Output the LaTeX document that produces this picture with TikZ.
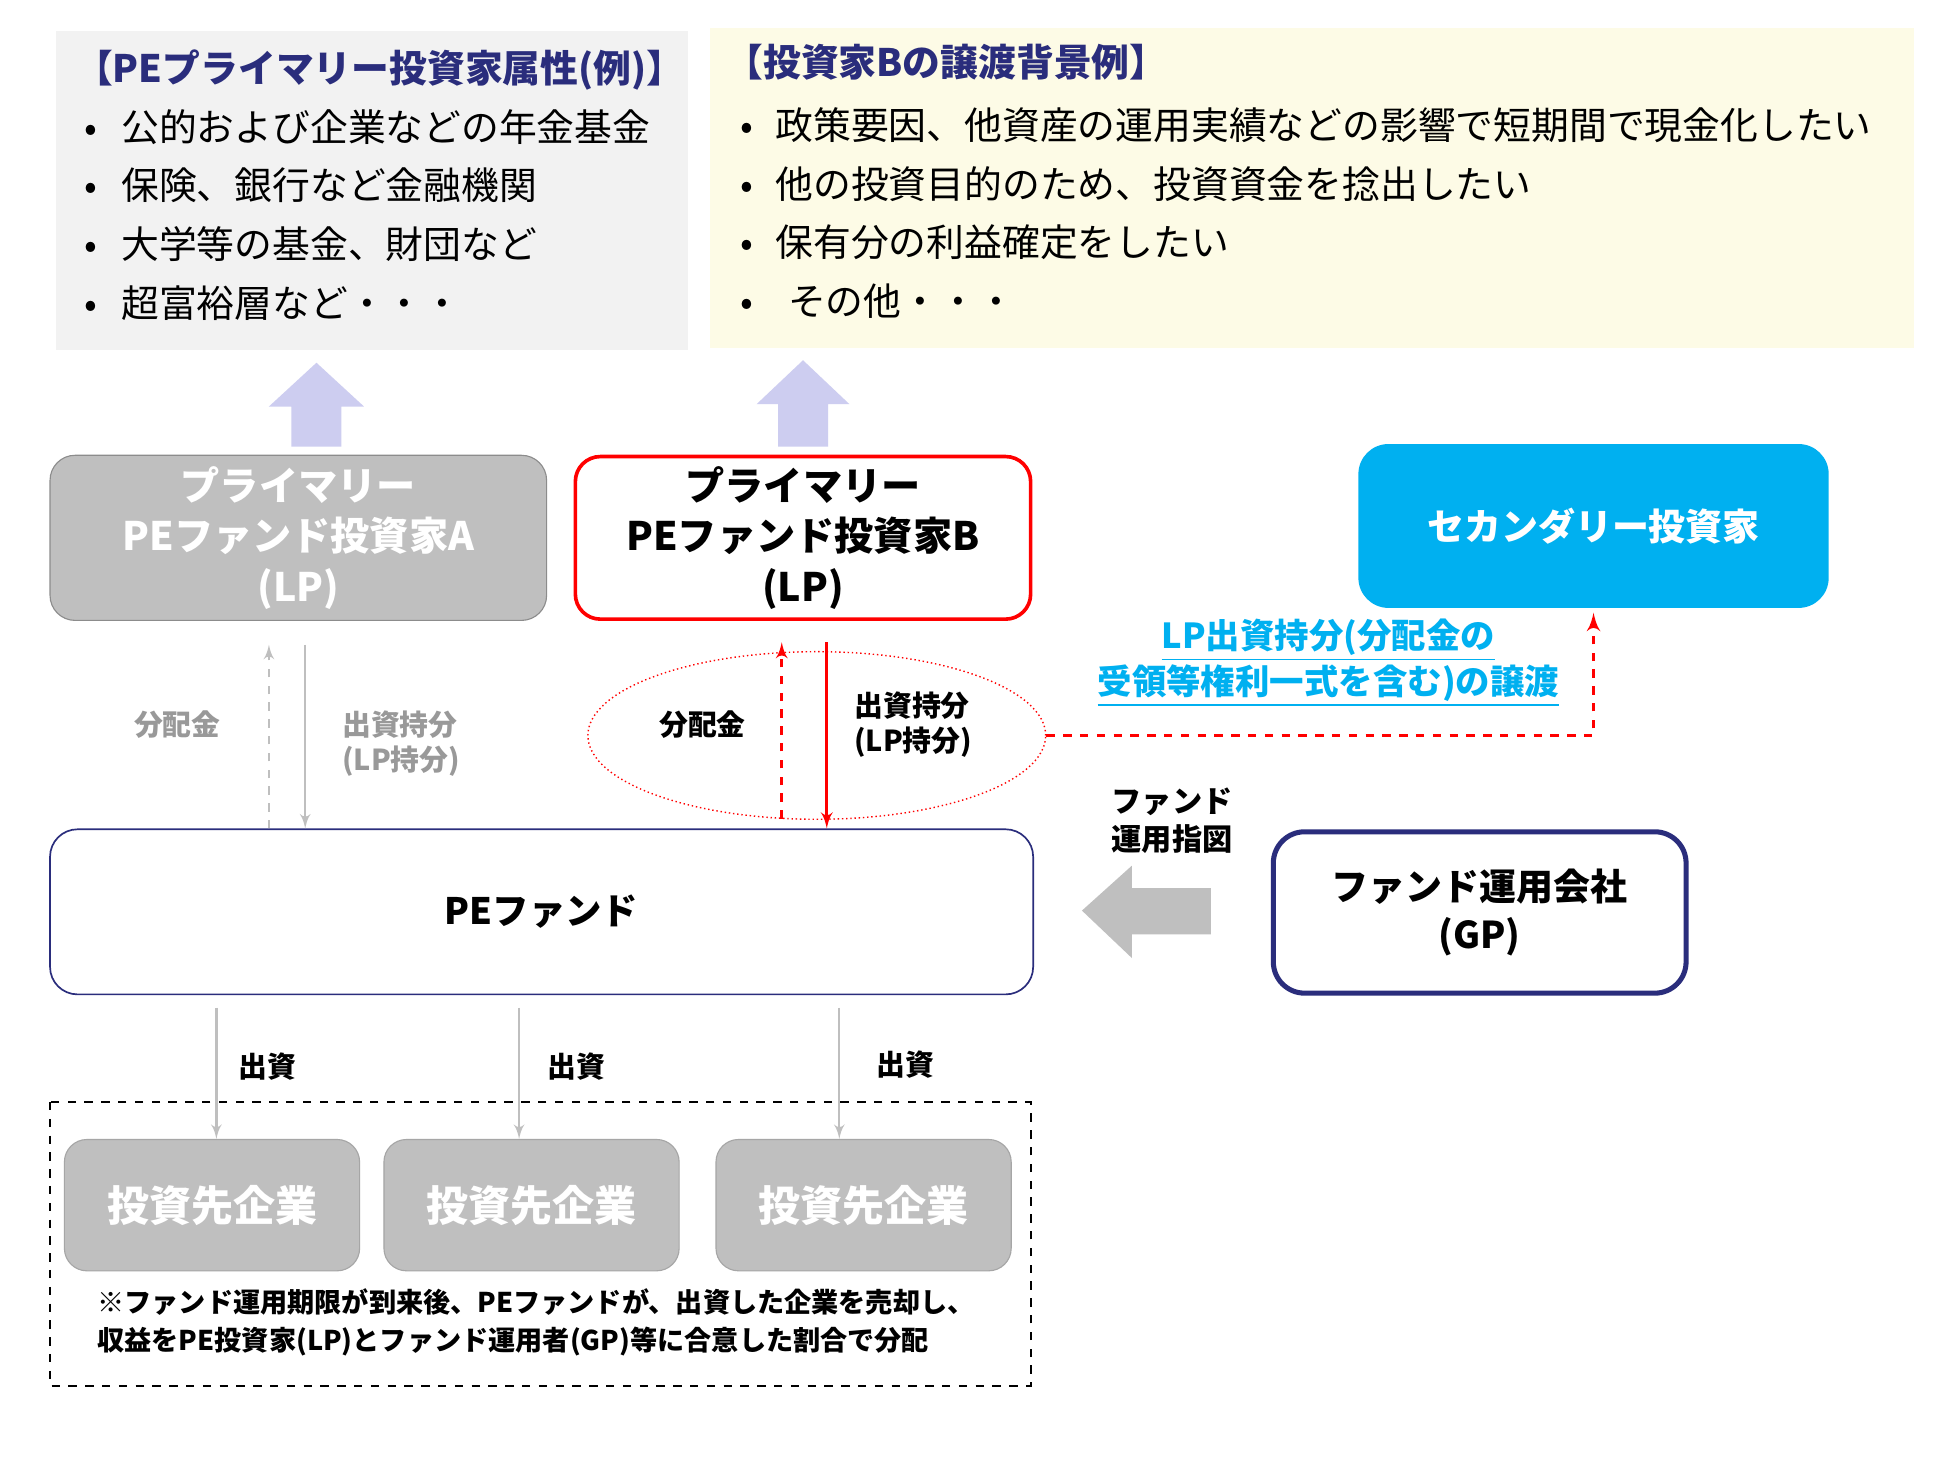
\documentclass[tikz,border=0pt]{standalone}
\usepackage{fontspec}
\setmainfont{Noto Sans CJK JP}
\usepackage{tikz}
\usetikzlibrary{shapes.geometric,arrows}
\newlength\upx
\setlength\upx{0.0157cm}
\definecolor{navy}{HTML}{2A2D7C}
\definecolor{panelgray}{HTML}{F2F2F2}
\definecolor{panelcream}{HTML}{FDFBE6}
\definecolor{lavender}{HTML}{CDCDF0}
\definecolor{boxgray}{HTML}{BFBFBF}
\definecolor{boxedge}{HTML}{8C8C8C}
\definecolor{compedge}{HTML}{A6A6A6}
\definecolor{skyblue}{HTML}{00B0F0}
\definecolor{linegray}{HTML}{BFBFBF}
\definecolor{labelgray}{HTML}{999999}
\newcommand{\itemdot}[2]{\hspace*{#1}\makebox[#2][l]{•}}
\tikzstyle{infogray} = [rectangle, fill=panelgray, minimum width=505\upx, minimum height=255\upx]
\tikzstyle{infocream} = [rectangle, fill=panelcream, minimum width=962\upx, minimum height=256\upx]
\tikzstyle{infotext} = [inner sep=0pt, align=left, font=\fontsize{13.5}{21}\selectfont]
\tikzstyle{lpgray} = [rectangle, draw=boxedge, fill=boxgray, rounded corners=20\upx, minimum width=397\upx,
  minimum height=132\upx, text=white, align=center, font=\bfseries\fontsize{14}{18}\selectfont]
\tikzstyle{lpred} = [rectangle, draw=red, line width=1.3pt, fill=white, rounded corners=20\upx, minimum width=364\upx,
  minimum height=130\upx, align=center, font=\bfseries\fontsize{14}{18}\selectfont]
\tikzstyle{secondary} = [rectangle, fill=skyblue, rounded corners=24\upx, minimum width=376\upx,
  minimum height=131\upx, text=white, font=\bfseries\fontsize{13.2}{17}\selectfont]
\tikzstyle{fund} = [rectangle, draw=navy, line width=0.6pt, fill=white, rounded corners=22\upx, minimum width=786\upx,
  minimum height=132\upx, font=\bfseries\fontsize{13}{17}\selectfont]
\tikzstyle{gp} = [rectangle, draw=navy, line width=1.8pt, fill=white, rounded corners=25\upx, minimum width=330\upx,
  minimum height=129\upx, align=center, font=\bfseries\fontsize{13.2}{17.4}\selectfont]
\tikzstyle{company} = [rectangle, draw=compedge, fill=boxgray, rounded corners=18\upx, minimum width=236\upx,
  minimum height=105\upx, text=white, font=\bfseries\fontsize{15}{18}\selectfont]
\tikzstyle{ring} = [ellipse, draw=red, densely dotted, line width=0.5pt, minimum width=366\upx, minimum height=134\upx]
\tikzstyle{flowtext} = [align=left, font=\bfseries\fontsize{10.3}{12.5}\selectfont]
\tikzstyle{transfertext} = [align=center, text=skyblue, font=\bfseries\fontsize{12.3}{14.7}\selectfont]
\tikzstyle{note} = [align=left, anchor=west, font=\bfseries\fontsize{9.7}{13.4}\selectfont]
\tikzstyle{grayline} = [draw, -latex', line width=0.8pt, color=linegray]
\tikzstyle{redline} = [draw, -latex', line width=1pt, color=red]
\tikzstyle{transfer} = [draw, -latex', line width=1.3pt, color=red, dashed]

\begin{document}
\begin{tikzpicture}[x=0.0157cm, y=-0.0157cm]
    \path[fill=white, use as bounding box] (0,0) rectangle (1567,1175.25);

    % panels on top
    \node[infogray] (attrA) at (297.5,152.5) {};
    \node[infotext, text width=475\upx, yshift=2pt] (attrAtext) at (attrA.center) {{\bfseries\color{navy}【PEプライマリー投資家属性(例)】}\\
      \itemdot{3.5pt}{13pt}公的および企業などの年金基金\\
      \itemdot{3.5pt}{13pt}保険、銀行など金融機関\\
      \itemdot{3.5pt}{13pt}大学等の基金、財団など\\
      \itemdot{3.5pt}{13pt}超富裕層など・・・};
    \node[infocream] (reasonB) at (1049,150) {};
    \node[infotext, text width=938\upx, yshift=2.2pt] (reasonBtext) at (reasonB.center) {{\bfseries\color{navy}【投資家Bの譲渡背景例】}\\[3\upx]
      \itemdot{5.4pt}{12.5pt}政策要因、他資産の運用実績などの影響で短期間で現金化したい\\
      \itemdot{5.4pt}{12.5pt}他の投資目的のため、投資資金を捻出したい\\
      \itemdot{5.4pt}{12.5pt}保有分の利益確定をしたい\\
      \itemdot{5.4pt}{12.5pt}\hspace{4.5pt}その他・・・};

    \fill[lavender] (253,290) -- (291,325) -- (273,325) -- (273,357) -- (233,357) -- (233,325) -- (215,325) -- cycle;
    \fill[lavender] (642,288) -- (679,323) -- (662,323) -- (662,357) -- (622,357) -- (622,323) -- (605,323) -- cycle;

    % investors and fund
    \node[lpgray] (lpA) at (238.5,430) {プライマリー\\PEファンド投資家A\\(LP)};
    \node[lpred, right of=lpA, node distance=6.335cm] (lpB) {プライマリー\\PEファンド投資家B\\(LP)};
    \node[secondary] (second) at (1274,420.5) {セカンダリー投資家};
    \node[fund] (fund) at (433,729) {PEファンド};
    \node[gp] (gp) at (1183,729.5) {ファンド運用会社\\(GP)};
    \node[ring] (ring) at (653,588) {};

    \coordinate (xa1) at (215,0);
    \coordinate (xa2) at (244,0);
    \coordinate (xb1) at (625,0);
    \coordinate (xb2) at (661,0);

    \path[grayline, dashed, shorten >=8.5pt] (fund.north -| xa1) -- node[flowtext, left=13.5pt, text=labelgray] {分配金} (lpA.south -| xa1);
    \path[grayline, shorten <=8.5pt] (lpA.south -| xa2) -- node[flowtext, pos=0.59, right=9.5pt, text=labelgray] {出資持分\\(LP持分)} (fund.north -| xa2);
    \path[redline, dashed, shorten <=3.5pt, shorten >=7.6pt] (fund.north -| xb1) -- node[flowtext, left=9pt, text=black] {分配金} (lpB.south -| xb1);
    \path[redline, shorten <=7.6pt] (lpB.south -| xb2) -- node[flowtext, right=6pt, text=black] {出資持分\\(LP持分)} (fund.north -| xb2);
    \path[transfer, shorten >=1.5pt] (ring.east) -| (second.south);
    \node[transfertext] (tlabel) at (1062,530) {\underline{LP出資持分(分配金の}\\\underline{受領等権利一式を含む)の譲渡}};

    \fill[boxgray] (865,728) -- (905,692) -- (905,710) -- (968,710) -- (968,747) -- (905,747) -- (905,766) -- cycle;
    \node[flowtext, align=center, font=\bfseries\fontsize{10.8}{13.8}\selectfont] (order) at (937,656) {ファンド\\運用指図};

    % portfolio companies
    \draw[dashed, line width=0.6pt] (40,881) rectangle (824,1108);
    \node[company] (co1) at (169.5,963.5) {投資先企業};
    \node[company, right of=co1, node distance=4.011cm] (co2) {投資先企業};
    \node[company, right of=co2, node distance=4.168cm] (co3) {投資先企業};

    \coordinate (xc1) at (173,0);
    \coordinate (xc2) at (415,0);
    \coordinate (xc3) at (671,0);
    \path[grayline, shorten <=4.5pt] (fund.south -| xc1) -- node[flowtext, right=4.3pt, text=black] {出資} (co1.north -| xc1);
    \path[grayline, shorten <=4.5pt] (fund.south -| xc2) -- node[flowtext, right=6.4pt, text=black] {出資} (co2.north -| xc2);
    \path[grayline, shorten <=4.5pt] (fund.south -| xc3) -- node[flowtext, right=9.5pt, yshift=1pt, text=black] {出資} (co3.north -| xc3);

    \node[note] (exitnote) at (70,1057) {※ファンド運用期限が到来後、PEファンドが、出資した企業を売却し、\\収益をPE投資家(LP)とファンド運用者(GP)等に合意した割合で分配};
\end{tikzpicture}
\end{document}
